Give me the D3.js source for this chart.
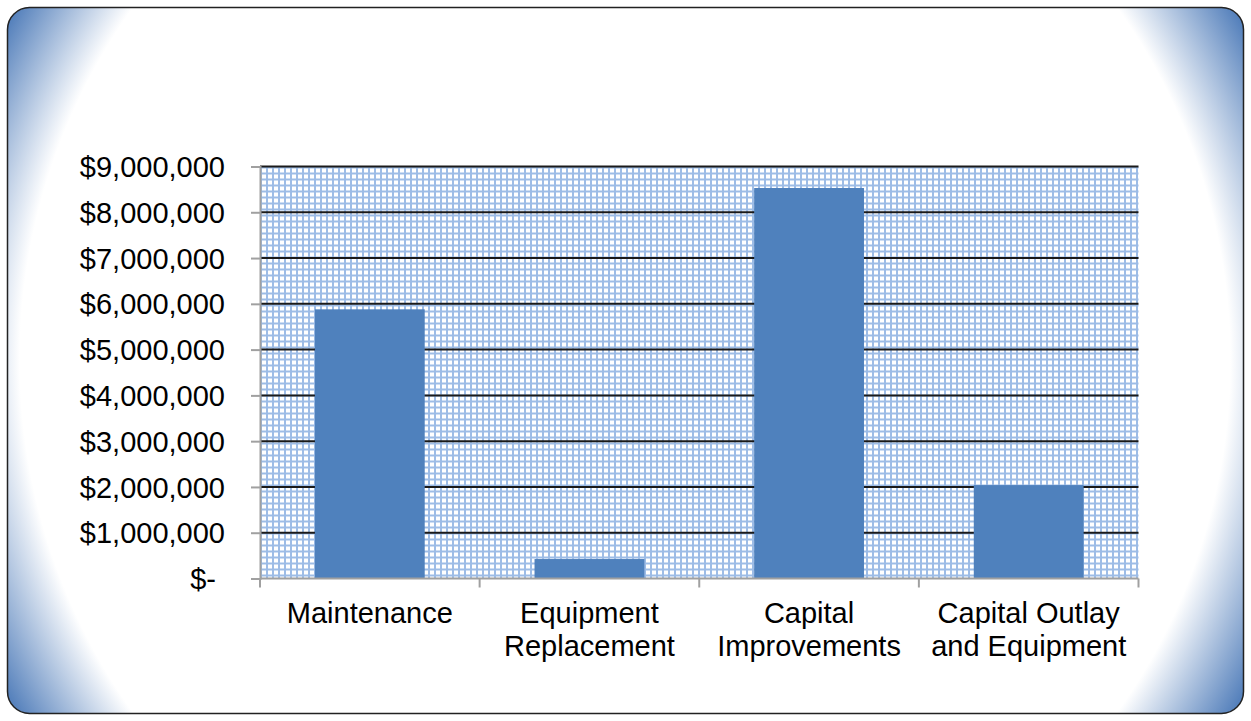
<!DOCTYPE html>
<html>
<head>
<meta charset="utf-8">
<script src="https://cdn.jsdelivr.net/npm/d3@7"></script>
<style>
  html, body { margin: 0; padding: 0; background: #fff; }
  svg { display: block; }
  text { font-family: "Liberation Sans", Arial, sans-serif; fill: #000; }
</style>
</head>
<body>
<svg id="chart" width="1251" height="721"></svg>
<script>
// Spending by category
const categories = [
  ["Maintenance"],
  ["Equipment", "Replacement"],
  ["Capital", "Improvements"],
  ["Capital Outlay", "and Equipment"]
];
const amounts = [5880000, 425000, 8530000, 2040000];
const yTicks = [0, 1000000, 2000000, 3000000, 4000000, 5000000, 6000000, 7000000, 8000000, 9000000];

const W = 1251, H = 721;
const plot = { left: 260, right: 1138.5, top: 166.5, bottom: 578.5 };

const svg = d3.select("#chart");
const defs = svg.append("defs");

// Frame background: white centre fading to blue in the corners
const rg = defs.append("radialGradient")
  .attr("id", "frameFill")
  .attr("gradientUnits", "userSpaceOnUse")
  .attr("cx", 625).attr("cy", 360).attr("r", 712);
rg.append("stop").attr("offset", 0).attr("stop-color", "#ffffff");
rg.append("stop").attr("offset", 0.85).attr("stop-color", "#ffffff");
rg.append("stop").attr("offset", 1).attr("stop-color", "#4474b5");

// Fine grid pattern for the plot area
const pat = defs.append("pattern")
  .attr("id", "smallGrid")
  .attr("patternUnits", "userSpaceOnUse")
  .attr("x", plot.left).attr("y", plot.top)
  .attr("width", 6).attr("height", 6);
pat.append("rect").attr("width", 6).attr("height", 6).attr("fill", "#ffffff");
pat.append("rect").attr("x", 0).attr("y", 0).attr("width", 2).attr("height", 6).attr("fill", "#9dbce6");
pat.append("rect").attr("x", 0).attr("y", 0).attr("width", 6).attr("height", 2).attr("fill", "#9dbce6");

svg.append("rect")
  .attr("x", 7.5).attr("y", 7.5)
  .attr("width", 1236).attr("height", 706)
  .attr("rx", 22).attr("ry", 22)
  .attr("fill", "url(#frameFill)")
  .attr("stroke", "#222").attr("stroke-width", 1.5);

const x = d3.scaleBand()
  .domain(d3.range(categories.length))
  .range([plot.left, plot.right])
  .paddingInner(0.5)
  .paddingOuter(0.25);

const y = d3.scaleLinear()
  .domain([0, 9000000])
  .range([plot.bottom, plot.top]);

// Plot area
svg.append("rect")
  .attr("x", plot.left).attr("y", plot.top)
  .attr("width", plot.right - plot.left)
  .attr("height", plot.bottom - plot.top)
  .attr("fill", "url(#smallGrid)");

// Major gridlines
svg.append("g")
  .selectAll("line")
  .data(yTicks.filter(d => d > 0))
  .join("line")
  .attr("x1", plot.left).attr("x2", plot.right)
  .attr("y1", d => y(d)).attr("y2", d => y(d))
  .attr("stroke", "#1a1a1a").attr("stroke-width", 2);

// Bars
svg.append("g")
  .selectAll("rect")
  .data(amounts)
  .join("rect")
  .attr("x", (d, i) => x(i))
  .attr("y", d => y(d))
  .attr("width", x.bandwidth())
  .attr("height", d => y(0) - y(d))
  .attr("fill", "#4f81bd");

// Y axis
const fmt = d3.format("$,");
const yAxis = d3.axisLeft(y)
  .tickValues(yTicks)
  .tickSize(9)
  .tickPadding(0)
  .tickFormat(d => d === 0 ? "$-" : fmt(d));
const yg = svg.append("g")
  .attr("transform", `translate(${plot.left},0)`)
  .call(yAxis);
yg.select(".domain").attr("stroke", "#a0a0a0").attr("stroke-width", 2);
yg.selectAll(".tick line").attr("stroke", "#a0a0a0").attr("stroke-width", 2);
yg.selectAll(".tick text")
  .attr("x", d => d === 0 ? -44 : -35)
  .attr("dy", "0.35em")
  .style("font-family", "'Liberation Sans', Arial, sans-serif")
  .style("font-size", "29px")
  .attr("fill", "#000");

// X axis line with ticks at category boundaries
const step = x.step();
const bounds = d3.range(categories.length + 1).map(i => plot.left + i * step);
svg.append("line")
  .attr("x1", plot.left).attr("x2", plot.right)
  .attr("y1", plot.bottom).attr("y2", plot.bottom)
  .attr("stroke", "#a0a0a0").attr("stroke-width", 2);
svg.append("g")
  .selectAll("line")
  .data(bounds)
  .join("line")
  .attr("x1", d => d).attr("x2", d => d)
  .attr("y1", plot.bottom).attr("y2", plot.bottom + 9)
  .attr("stroke", "#a0a0a0").attr("stroke-width", 2);

// Category labels
const labels = svg.append("g")
  .selectAll("text")
  .data(categories)
  .join("text")
  .attr("text-anchor", "middle")
  .attr("x", (d, i) => x(i) + x.bandwidth() / 2)
  .attr("y", 623)
  .style("font-size", "29px");
labels.selectAll("tspan")
  .data(d => d)
  .join("tspan")
  .attr("x", function () { return d3.select(this.parentNode).attr("x"); })
  .attr("dy", (d, i) => i === 0 ? 0 : 33)
  .text(d => d);
</script>
</body>
</html>
